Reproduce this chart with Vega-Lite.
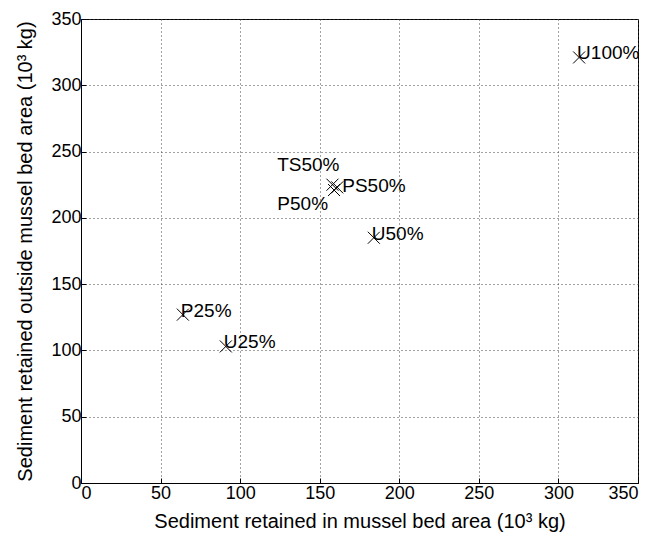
{
  "$schema": "https://vega.github.io/schema/vega-lite/v6.json",
  "autosize": "none",
  "padding": {"left": 81, "top": 19, "right": 16, "bottom": 60},
  "width": 557,
  "height": 464,
  "background": "white",
  "config": {
    "view": {"stroke": "black", "strokeWidth": 1},
    "font": "Liberation Sans",
    "axis": {
      "labelFont": "Liberation Sans",
      "titleFont": "Liberation Sans",
      "labelFontSize": 18,
      "titleFontSize": 20,
      "titleFontWeight": "normal",
      "labelColor": "black",
      "titleColor": "black",
      "domainColor": "black",
      "tickColor": "black",
      "gridColor": "#444444",
      "gridDash": [1, 3],
      "gridOpacity": 1,
      "tickSize": -5,
      "labelPadding": 5
    }
  },
  "data": {
    "values": [
      {"label": "U100%", "x": 313, "y": 321},
      {"label": "TS50%", "x": 158, "y": 225},
      {"label": "PS50%", "x": 161, "y": 223},
      {"label": "P50%", "x": 159, "y": 221},
      {"label": "U50%", "x": 184, "y": 185},
      {"label": "P25%", "x": 64, "y": 127},
      {"label": "U25%", "x": 91, "y": 103}
    ]
  },
  "encoding": {
    "x": {
      "field": "x", "type": "quantitative",
      "scale": {"domain": [0, 350], "nice": false},
      "axis": {"values": [0, 50, 100, 150, 200, 250, 300, 350], "title": "Sediment retained in mussel bed area (10³ kg)", "titlePadding": 9, "labelPadding": 6}
    },
    "y": {
      "field": "y", "type": "quantitative",
      "scale": {"domain": [0, 350], "nice": false},
      "axis": {"values": [0, 50, 100, 150, 200, 250, 300, 350], "title": "Sediment retained outside mussel bed area (10³ kg)", "titlePadding": 15}
    }
  },
  "layer": [
    {
      "mark": {"type": "point", "shape": "M-1,-1L1,1M-1,1L1,-1", "size": 144, "stroke": "black", "strokeWidth": 1, "filled": false, "opacity": 1}
    },
    {
      "transform": [{"filter": "datum.label != 'TS50%' && datum.label != 'P50%' && datum.label != 'PS50%'"}],
      "mark": {"type": "text", "align": "left", "baseline": "middle", "dx": -2, "dy": -4, "fontSize": 19, "font": "Liberation Sans", "color": "black"},
      "encoding": {"text": {"field": "label"}}
    },
    {
      "transform": [{"filter": "datum.label == 'PS50%'"}],
      "mark": {"type": "text", "align": "left", "baseline": "middle", "dx": 5, "dy": -1, "fontSize": 19, "font": "Liberation Sans", "color": "black"},
      "encoding": {"text": {"field": "label"}}
    },
    {
      "transform": [{"filter": "datum.label == 'TS50%'"}],
      "mark": {"type": "text", "align": "right", "baseline": "middle", "dx": 7, "dy": -20, "fontSize": 19, "font": "Liberation Sans", "color": "black"},
      "encoding": {"text": {"field": "label"}}
    },
    {
      "transform": [{"filter": "datum.label == 'P50%'"}],
      "mark": {"type": "text", "align": "right", "baseline": "middle", "dx": -6, "dy": 14, "fontSize": 19, "font": "Liberation Sans", "color": "black"},
      "encoding": {"text": {"field": "label"}}
    }
  ]
}
